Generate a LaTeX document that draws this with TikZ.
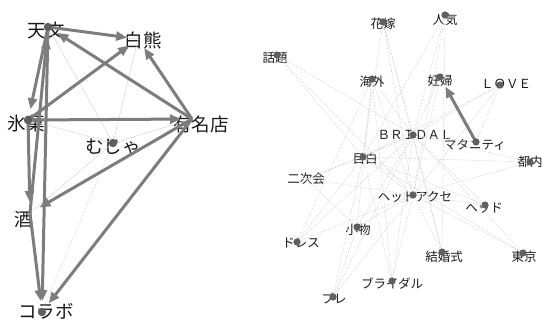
\documentclass[tikz,border=0pt]{standalone}
\usepackage{fontspec}
\setmainfont{Noto Sans CJK JP}
\usetikzlibrary{arrows.meta}
\definecolor{edgegray}{RGB}{125,125,125}
\definecolor{lightedge}{RGB}{212,212,212}
\definecolor{dotgray}{RGB}{95,95,95}
\definecolor{txt}{RGB}{25,25,25}
\tikzset{
  biglbl/.style={font=\fontsize{18.5}{18.5}\selectfont, text=txt, inner sep=0pt},
  smalllbl/.style={font=\fontsize{12.5}{12.5}\selectfont, text=txt, inner sep=0pt},
  strong/.style={draw=edgegray, line width=3pt, -{Triangle[length=11pt,width=9pt]}, shorten >=11pt},
  faint/.style={draw=lightedge, line width=0.45pt},
  faintdash/.style={draw=lightedge, line width=0.45pt, dash pattern=on 2pt off 1.2pt},
  dotbig/.style={fill=dotgray, draw=none},
}
\begin{document}
\begin{tikzpicture}[x=1pt,y=-1pt]
\useasboundingbox (0,0) rectangle (545,323);
% ---------- left graph: positions ----------
\coordinate (tenmon) at (48,27);
\coordinate (shiro) at (138,39);
\coordinate (hyoka) at (28,120);
\coordinate (yumei) at (192,119);
\coordinate (mujya) at (113,143);
\coordinate (sake) at (30,213);
\coordinate (collab) at (42,312);
% labels
\node[biglbl] (tenmon-l) at (46,30) {天文};
\node[biglbl] (shiro-l) at (143,40) {白熊};
\node[biglbl] (hyoka-l) at (26,123) {氷菓};
\node[biglbl] (yumei-l) at (201,124) {有名店};
\node[biglbl] (mujya-l) at (113,147) {むじゃ};
\node[biglbl] (sake-l) at (24,220) {酒};
\node[biglbl] (collab-l) at (46,311) {コラボ};
% faint edges
\foreach \a/\b in {tenmon/mujya, shiro/mujya, hyoka/mujya, mujya/yumei, sake/mujya, tenmon/shiro}
  \draw[faint] (\a) -- (\b);
\draw[faintdash] (mujya) -- (collab);
% strong edges
\draw[strong] (tenmon) -- (shiro);
\draw[strong] (yumei) -- (shiro);
\draw[strong] (yumei) -- (tenmon);
\draw[strong] (hyoka) -- (shiro);
\draw[strong] (tenmon) -- (hyoka);
\draw[strong] (sake) -- (tenmon);
\draw[strong] (tenmon) -- (collab);
\draw[strong] (hyoka) -- (yumei);
\draw[strong] (hyoka) -- (sake);
\draw[strong] (yumei) -- (sake);
\draw[strong] (yumei) -- (collab);
\draw[strong] (sake) -- (collab);
% dots
\foreach \n in {tenmon, hyoka, mujya, collab}
  \fill[dotbig] (\n) circle (4.2pt);
% ---------- right graph: positions ----------
\coordinate (hanayome) at (383,22);
\coordinate (ninki) at (445,15);
\coordinate (wadai) at (277,55);
\coordinate (kaigai) at (372,79);
\coordinate (ninpu) at (440,77);
\coordinate (love) at (500,85);
\coordinate (bridal) at (413,135);
\coordinate (mata) at (476,142);
\coordinate (mejiro) at (363,157);
\coordinate (tonai) at (530,162);
\coordinate (nijikai) at (306,179);
\coordinate (hac) at (413,195);
\coordinate (head) at (485,205);
\coordinate (komono) at (357,227);
\coordinate (dress) at (297,242);
\coordinate (kekkon) at (442,252);
\coordinate (tokyo) at (523,253);
\coordinate (buraidaru) at (392,281);
\coordinate (pure) at (333,297);
% labels
\node[smalllbl] (hanayome-l) at (383,24) {花嫁};
\node[smalllbl] (ninki-l) at (445,20) {人気};
\node[smalllbl] (wadai-l) at (275,58) {話題};
\node[smalllbl] (kaigai-l) at (372,82) {海外};
\node[smalllbl] (ninpu-l) at (440,81) {妊婦};
\node[smalllbl] (love-l) at (506,84) {ＬＯＶＥ};
\node[smalllbl] (bridal-l) at (415,135) {ＢＲＩＤＡＬ};
\node[smalllbl] (mata-l) at (475,145) {マタニティ};
\node[smalllbl] (mejiro-l) at (365,159) {目白};
\node[smalllbl] (tonai-l) at (530,162) {都内};
\node[smalllbl] (nijikai-l) at (306,179) {二次会};
\node[smalllbl] (hac-l) at (415,197) {ヘッドアクセ};
\node[smalllbl] (head-l) at (484,208) {ヘッド};
\node[smalllbl] (komono-l) at (358,230) {小物};
\node[smalllbl] (dress-l) at (301,243) {ドレス};
\node[smalllbl] (kekkon-l) at (444,257) {結婚式};
\node[smalllbl] (tokyo-l) at (524,257) {東京};
\node[smalllbl] (buraidaru-l) at (392,284) {ブライダル};
\node[smalllbl] (pure-l) at (334,299) {プレ};
% faint edges
\foreach \n in {hanayome, ninki, wadai, kaigai, ninpu, love, mata, mejiro, tonai, nijikai, head, komono, dress, kekkon, tokyo, buraidaru, pure}
  \draw[faintdash] (bridal) -- (\n);
\foreach \n in {hanayome, ninki, wadai, kaigai, ninpu, love, mejiro, tonai, nijikai, head, komono, dress, kekkon, tokyo, buraidaru, pure}
  \draw[faintdash] (hac) -- (\n);
\foreach \a/\b in {mejiro/tonai, mejiro/love, mejiro/ninki, mejiro/hanayome, mejiro/kaigai, mejiro/dress, mejiro/pure, mejiro/buraidaru, mejiro/tokyo, mejiro/head, mejiro/nijikai, mejiro/wadai, kaigai/komono, kaigai/buraidaru, hanayome/kekkon, ninki/kekkon, komono/pure, dress/kaigai, love/mata, nijikai/komono}
  \draw[faintdash] (\a) -- (\b);
% strong edge
\draw[strong] (mata) -- (ninpu);
% dots
\foreach \n in {hanayome, ninki, wadai, kaigai, ninpu, love, bridal, mata, mejiro, tonai, hac, head, komono, dress, kekkon, tokyo, buraidaru, pure}
  \fill[dotbig] (\n) circle (3.6pt);
\end{tikzpicture}
\end{document}
